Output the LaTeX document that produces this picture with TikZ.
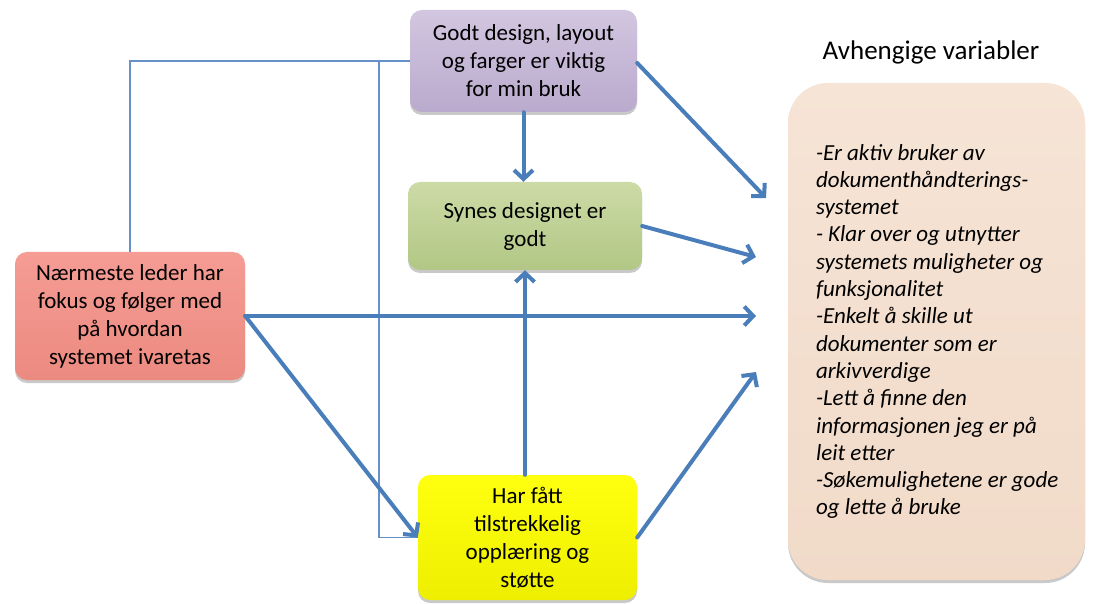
\documentclass[tikz,border=0pt]{standalone}
\usepackage{fontspec}
\setmainfont{Carlito}
\usetikzlibrary{arrows.meta,shadows}

\definecolor{flow}{HTML}{4A7EBB}
\definecolor{thinflow}{HTML}{6590C8}
\definecolor{lavtop}{HTML}{D2C6E0}
\definecolor{lavbot}{HTML}{BAAACD}
\definecolor{greentop}{HTML}{CCDBA6}
\definecolor{greenbot}{HTML}{B2C785}
\definecolor{redtop}{HTML}{F59C94}
\definecolor{redbot}{HTML}{EC8A80}
\definecolor{yeltop}{HTML}{FFFF10}
\definecolor{yelbot}{HTML}{EEEE00}
\definecolor{peachtop}{HTML}{F6E4D6}
\definecolor{peachbot}{HTML}{F1DAC8}

\begin{document}
\begin{tikzpicture}[x=1pt,y=-1pt,
  box/.style={rounded corners=12pt, align=center, inner sep=0pt,
    font=\fontsize{23}{28}\selectfont,
    drop shadow={shadow xshift=0pt, shadow yshift=-3pt, opacity=0.3, fill=black!70}},
  thin/.style={draw=thinflow, line width=1.8pt},
  thick/.style={draw=flow, line width=4pt, line cap=round,
    -{Straight Barb[length=9pt,width=19pt,line width=4pt]}},
  listtext/.style={align=left, inner sep=0pt,
    font=\itshape\fontsize{23}{27.3}\selectfont}]

\useasboundingbox (0,0) rectangle (1093,604);

% boxes
\node[box, top color=lavtop, bottom color=lavbot, minimum width=227pt, minimum height=102pt]
  (design) at (523.5,61) {Godt design, layout\\og farger er viktig\\for min bruk};
\node[box, top color=greentop, bottom color=greenbot, minimum width=234pt, minimum height=88pt]
  (synes) at (525,226) {Synes designet er\\godt};
\node[box, top color=redtop, bottom color=redbot, minimum width=230pt, minimum height=128pt]
  (leder) at (130,316) {Nærmeste leder har\\fokus og følger med\\på hvordan\\systemet ivaretas};
\node[box, top color=yeltop, bottom color=yelbot, minimum width=219pt, minimum height=125pt]
  (opplaering) at (527.5,537.5) {Har fått\\tilstrekkelig\\opplæring og\\støtte};
\node[box, rounded corners=40pt, top color=peachtop, bottom color=peachbot,
  minimum width=297pt, minimum height=497pt] (avh) at (936.5,331.5) {};

\node[font=\fontsize{27}{30}\selectfont, inner sep=0pt] (title) at (931,52) {Avhengige variabler};

\node[listtext, anchor=west] (liste) at ([xshift=28pt]avh.west)
  {-Er aktiv bruker av\\
   dokumenthåndterings-\\
   systemet\\
   - Klar over og utnytter\\
   systemets muligheter og\\
   funksjonalitet\\
   -Enkelt å skille ut\\
   dokumenter som er\\
   arkivverdige\\
   -Lett å finne den\\
   informasjonen jeg er på\\
   leit etter\\
   -Søkemulighetene er gode\\
   og lette å bruke};

% free ends of the arrows pointing at the dependent variables
\coordinate (t1) at (766,198);
\coordinate (t2) at (756,257);
\coordinate (t3) at (756,316);
\coordinate (t4) at (756,372);
\coordinate (split) at (379,61);

% thin connectors
\draw[thin] (design.west) -| (leder.north);
\draw[thin] (split) |- (opplaering.west);

% thick arrows
\draw[thick] (design.south) -- (design.south |- synes.north);
\draw[thick] ([yshift=-2pt]design.east) -- (t1);
\draw[thick] (synes.east) -- (t2);
\draw[thick] (leder.east) -- (t3);
\draw[thick] (leder.east) -- (opplaering.west);
\draw[thick] (synes.south |- opplaering.north) -- (synes.south);
\draw[thick] (opplaering.east) -- (t4);

\end{tikzpicture}
\end{document}
